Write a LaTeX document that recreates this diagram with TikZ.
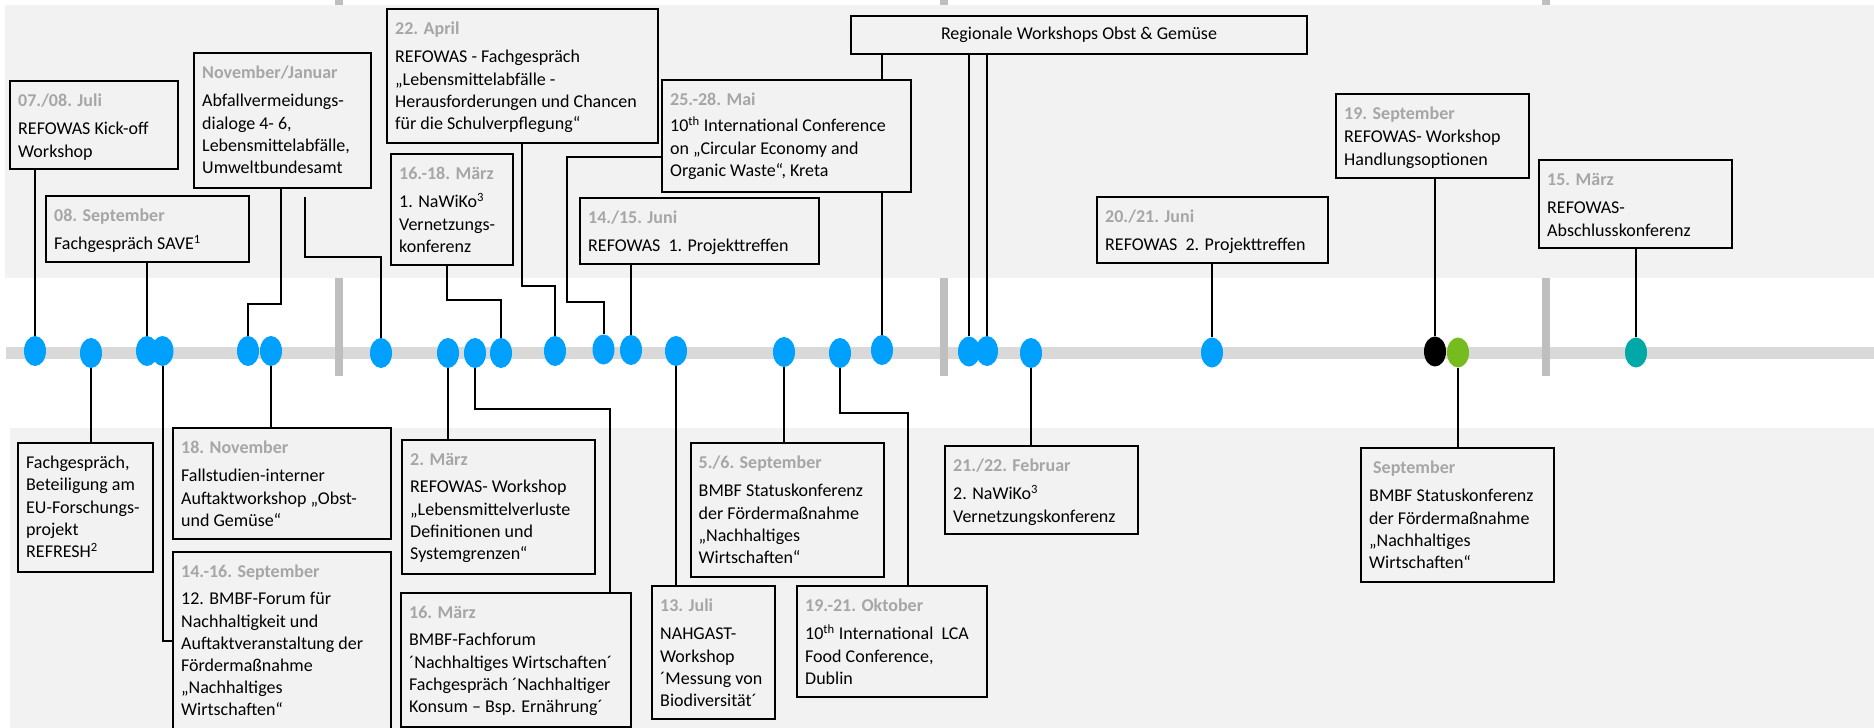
\documentclass[tikz,border=0pt]{standalone}
\usepackage{fontspec}
\setmainfont{Carlito}
\usetikzlibrary{calc,shapes.geometric}
\definecolor{bandgray}{HTML}{F2F2F2}
\definecolor{linegray}{HTML}{D9D9D9}
\definecolor{sepgray}{HTML}{BFBFBF}
\definecolor{dategray}{HTML}{A6A6A6}
\definecolor{dotblue}{HTML}{00A0FF}
\definecolor{dotgreen}{HTML}{77BC1F}
\definecolor{dotteal}{HTML}{00A8A8}
\pgfdeclarelayer{bands}
\pgfdeclarelayer{back}
\pgfsetlayers{bands,back,main}
\newcommand{\dt}[1]{{\bfseries\color{dategray}#1}}
\newcommand{\ebox}[6]{%
  \node[box, minimum width=#4pt, minimum height=#5pt] (#1) at (#2,#3) {};
  \node[txt] (#1t) at ($(#1.north west)+(8,10)$) {\strut #6};}
\tikzset{
  box/.style={draw=black, line width=2pt, fill=bandgray, anchor=north west, inner sep=0pt, outer sep=0pt},
  txt/.style={anchor=north west, align=left, inner sep=0pt, font=\fontsize{18}{22.2}\selectfont},
  dot/.style={ellipse, fill=dotblue, minimum width=22pt, minimum height=30pt, inner sep=0pt},
  conn/.style={line width=2pt, draw=black},
}
\begin{document}
\begin{tikzpicture}[x=1pt,y=-1pt]
\useasboundingbox (0,0) rectangle (1874,728);
% background
\begin{pgfonlayer}{bands}
  \fill[linegray] (6,347) rectangle (1874,359);
  \foreach \sx in {339,943.5,1546}{\fill[sepgray] (\sx-4,0) rectangle (\sx+4,376);}
  \fill[bandgray] (5,5) rectangle (1874,278);
  \fill[bandgray] (10,428) rectangle (1874,728);
\end{pgfonlayer}
% upper boxes
\ebox{A}{10}{81}{168}{88}{\dt{07./08. Juli}\\[6pt]REFOWAS Kick-off\\Workshop}
\ebox{B}{46}{196}{203}{66}{\dt{08. September}\\[6pt]Fachgespräch SAVE\textsuperscript{1}}
\ebox{C}{194}{53}{177}{135}{\dt{November/Januar}\\[6pt]Abfallvermeidungs-\\dialoge 4- 6,\\Lebensmittelabfälle,\\Umweltbundesamt}
\ebox{D}{387}{9}{271}{134}{\dt{22. April}\\[6pt]REFOWAS - Fachgespräch\\„Lebensmittelabfälle -\\Herausforderungen und Chancen\\für die Schulverpflegung“}
\ebox{E}{391}{154}{122}{111}{\dt{16.-18. März}\\[6pt]1. NaWiKo\textsuperscript{3}\\Vernetzungs-\\konferenz}
\ebox{G}{662}{80}{249}{112}{\dt{25.-28. Mai}\\[4pt]10\textsuperscript{th} International Conference\\on „Circular Economy and\\Organic Waste“, Kreta}
\ebox{H}{580}{198}{239}{66}{\dt{14./15. Juni}\\[6pt]REFOWAS~~1. Projekttreffen}
\node[box, minimum width=456pt, minimum height=38pt, font=\fontsize{18}{22.2}\selectfont] (reg) at (851,16) {Regionale Workshops Obst \& Gemüse};
\ebox{I}{1097}{197}{231}{66}{\dt{20./21. Juni}\\[6pt]REFOWAS~~2. Projekttreffen}
\ebox{J}{1336}{94}{193}{84}{\dt{19. September}\\[1pt]REFOWAS- Workshop\\Handlungsoptionen}
\ebox{K}{1539}{160}{193}{88}{\dt{15. März}\\[6pt]REFOWAS-\\Abschlusskonferenz}
% lower boxes
\ebox{L}{18}{443}{134.5}{129}{Fachgespräch,\\Beteiligung am\\EU-Forschungs-\\projekt\\REFRESH\textsuperscript{2}}
\ebox{M}{173}{428}{218}{111}{\dt{18. November}\\[6pt]Fallstudien-interner\\Auftaktworkshop „Obst-\\und Gemüse“}
\ebox{N}{173}{552}{218}{200}{\dt{14.-16. September}\\[5pt]12. BMBF-Forum für\\Nachhaltigkeit und\\Auftaktveranstaltung der\\Fördermaßnahme\\„Nachhaltiges\\Wirtschaften“}
\ebox{O}{402}{440}{193}{134}{\dt{2. März}\\[5pt]REFOWAS- Workshop\\„Lebensmittelverluste\\Definitionen und\\Systemgrenzen“}
\ebox{P}{401}{593}{230}{134}{\dt{16. März}\\[5pt]BMBF-Fachforum\\´Nachhaltiges Wirtschaften´\\Fachgespräch ´Nachhaltiger\\Konsum – Bsp. Ernährung´}
\ebox{Q}{690.5}{443}{193}{134}{\dt{5./6. September}\\[6pt]BMBF Statuskonferenz\\der Fördermaßnahme\\„Nachhaltiges\\Wirtschaften“}
\ebox{R}{652}{586}{123}{133}{\dt{13. Juli}\\[6pt]NAHGAST-\\Workshop\\´Messung von\\Biodiversität´}
\ebox{S}{797}{586}{190}{111}{\dt{19.-21. Oktober}\\[6pt]10\textsuperscript{th} International~~LCA\\Food Conference,\\Dublin}
\ebox{T}{945}{446}{193}{88}{\dt{21./22. Februar}\\[6pt]2. NaWiKo\textsuperscript{3}\\Vernetzungskonferenz}
\ebox{U}{1361}{448}{193}{134}{\dt{\hspace{4pt}September}\\[6pt]BMBF Statuskonferenz\\der Fördermaßnahme\\„Nachhaltiges\\Wirtschaften“}
% dots
\node[dot] (d1) at (35,351) {};
\node[dot] (d2) at (91,353) {};
\node[dot] (d3) at (147,351) {};
\node[dot] (d4) at (162.5,351) {};
\node[dot] (d5) at (248,351) {};
\node[dot] (d6) at (271,351) {};
\node[dot] (d7) at (381,353) {};
\node[dot] (d8) at (448,353) {};
\node[dot] (d9) at (475,353) {};
\node[dot] (d10) at (501,353) {};
\node[dot] (d11) at (555,351) {};
\node[dot] (d12) at (603.5,349.5) {};
\node[dot] (d13) at (631,350) {};
\node[dot] (d14) at (676,351) {};
\node[dot] (d15) at (784,352) {};
\node[dot] (d16) at (840,353) {};
\node[dot] (d17) at (882,350) {};
\node[dot] (d18) at (969,351.5) {};
\node[dot] (d19) at (987,351) {};
\node[dot] (d20) at (1031,353) {};
\node[dot] (d21) at (1212,352.5) {};
\node[dot, fill=black] (d22) at (1435,351.5) {};
\node[dot, fill=dotgreen] (d23) at (1458,352.5) {};
\node[dot, fill=dotteal] (d24) at (1636,352.5) {};
% helper coordinates
\coordinate (kC) at (281,304);
\coordinate (o1) at (305,197);
\coordinate (oK) at (305,257);
\coordinate (kD) at (522,286);
\coordinate (kE) at (447,300);
\coordinate (kG1) at (567,157);
\coordinate (kG2) at (567,302);
\coordinate (kN) at (0,641);
\coordinate (kP) at (610,409);
\coordinate (kS) at (907.5,413);
% connectors
\begin{pgfonlayer}{back}
  \draw[conn] (d1) -- (d1 |- A.south);
  \draw[conn] (d3) -- (d3 |- B.south);
  \draw[conn] (kC |- C.south) -- (kC) -| (d5);
  \draw[conn] (o1) -- (oK) -| (d7);
  \draw[conn] (kD |- D.south) -- (kD) -| (d11);
  \draw[conn] (kE |- E.south) -- (kE) -| (d10);
  \draw[conn] (kG1 -| G.west) -- (kG1) -- (kG2) -| (d12);
  \draw[conn] (d13) -- (d13 |- H.south);
  \draw[conn] (d17) -- (d17 |- reg.south);
  \draw[conn] (d18) -- (d18 |- reg.south);
  \draw[conn] (d19) -- (d19 |- reg.south);
  \draw[conn] (d21) -- (d21 |- I.south);
  \draw[conn] (d22) -- (d22 |- J.south);
  \draw[conn] (d24) -- (d24 |- K.south);
  \draw[conn] (d2) -- (d2 |- L.north);
  \draw[conn] (d4) |- (N.west |- kN);
  \draw[conn] (d6) -- (d6 |- M.north);
  \draw[conn] (d8) -- (d8 |- O.north);
  \draw[conn] (d9) |- (kP) -- (kP |- P.north);
  \draw[conn] (d14) -- (d14 |- R.north);
  \draw[conn] (d15) -- (d15 |- Q.north);
  \draw[conn] (d16) |- (kS) -- (kS |- S.north);
  \draw[conn] (d20) -- (d20 |- T.north);
  \draw[conn] (d23) -- (d23 |- U.north);
\end{pgfonlayer}
\end{tikzpicture}
\end{document}
